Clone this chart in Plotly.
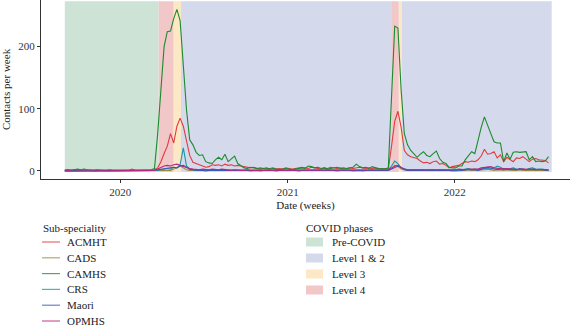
import pandas as pd
import plotly.graph_objects as go

# ---------------- data ----------------
start_week = "2019-09-02"
n_weeks = 152

series_names = ["ACMHT", "CADS", "CAMHS", "CRS", "Maori", "OPMHS"]
series_colors = ["#E23B3B", "#A08A3A", "#1E8A2E", "#1896A6", "#3558C0", "#B8287E"]

acmht = [2,2,1,1,2,1,1,1,1,2,1,1,1,1,1,1,2,1,1,1,1,3,1,1,1,1,1,2,
         2,5,15,28,40,60,45,72,85,72,50,25,14,12,10,8,6,7,10,9,10,8,11,9,10,8,9,8,
         7,6,5,6,4,5,4,3,4,5,3,4,3,5,4,3,4,5,6,5,4,6,5,4,3,5,4,6,5,4,5,3,4,5,4,5,6,5,4,5,4,5,4,3,4,
         3,40,80,96,70,33,26,23,22,20,16,13,14,12,15,16,11,12,9,5,7,8,9,12,15,14,16,15,
         18,24,35,27,28,31,21,26,15,22,18,15,21,20,23,19,15,19,20,18,18,17,13]
cads = [0,0,0,1,0,0,0,0,0,0,1,0,0,0,0,0,0,0,0,1,0,0,0,0,0,0,0,0,
        0,0,0,0,1,1,3,6,8,5,2,1,1,1,0,1,1,0,1,1,0,1,1,0,1,0,1,1,
        0,1,0,0,1,0,0,1,0,0,0,1,0,0,1,0,0,0,1,0,0,1,0,0,0,1,0,0,1,0,0,0,1,0,0,1,0,0,0,1,0,0,1,0,0,
        1,4,9,7,3,2,1,1,1,2,1,1,1,1,2,1,1,1,1,1,1,0,1,1,1,2,1,1,2,1,2,3,2,1,2,1,1,2,1,1,1,2,1,1,1,2,1,1,1,1,1]
camhs = [1,2,1,2,3,2,3,2,1,1,2,1,1,1,2,1,1,2,1,1,1,2,1,1,2,1,1,2,
         4,60,130,200,224,225,245,260,242,165,98,50,42,30,25,26,15,13,12,18,22,18,27,15,20,24,12,8,
         5,4,6,5,4,3,4,5,3,4,3,2,3,4,3,2,3,4,5,4,8,7,5,6,4,5,3,4,5,6,4,5,4,5,6,11,7,5,6,4,7,5,3,4,3,
         5,120,233,230,130,60,42,33,28,22,27,31,25,23,28,32,20,14,12,6,5,5,8,8,18,25,31,28,
         50,70,87,75,60,47,45,45,15,29,19,30,31,30,31,31,18,23,15,16,15,16,23]
crs = [0,0,1,0,0,1,2,1,0,0,0,1,0,0,0,0,1,0,0,0,1,0,0,0,0,1,0,0,
       0,1,2,3,4,3,6,5,10,37,8,3,2,1,1,2,1,1,2,1,1,1,2,1,1,1,2,1,
       1,1,0,1,1,0,1,1,2,1,0,1,1,0,1,2,1,0,1,1,1,0,1,1,0,1,2,1,1,0,1,1,2,1,0,1,1,0,1,1,2,1,1,0,1,
       2,8,16,12,5,3,2,2,1,1,2,1,1,2,1,1,2,1,1,1,0,1,1,2,3,4,2,3,2,3,5,4,3,5,8,6,3,2,4,5,3,2,3,2,4,5,3,2,3,2,1]
maori = [0,0,0,1,0,0,0,0,0,1,0,0,0,0,0,0,0,1,0,0,0,0,0,0,0,0,1,0,
         1,2,3,4,4,5,6,5,8,9,6,3,2,1,1,1,0,1,1,0,1,1,0,1,1,0,1,1,
         0,1,0,1,1,0,0,1,0,1,0,1,0,0,1,0,1,0,0,1,0,1,1,0,0,1,0,1,0,0,1,0,1,1,0,0,1,0,1,0,1,1,0,1,1,
         1,3,6,8,5,2,1,1,1,1,0,1,1,1,0,1,1,1,0,1,1,2,1,1,2,2,3,2,1,2,4,6,5,3,2,3,4,3,2,3,2,4,3,2,3,2,2,3,2,2,1]
opmhs = [0,1,0,0,1,0,0,0,1,0,0,0,1,0,0,0,0,0,1,0,0,0,1,0,0,0,0,1,
         1,3,6,8,9,8,10,11,9,7,5,4,3,2,2,3,2,2,3,2,2,3,2,2,1,2,1,1,
         1,2,1,1,2,1,1,2,1,1,1,2,1,1,2,1,1,1,2,1,1,2,1,1,1,2,1,1,2,1,1,1,2,1,1,2,1,1,1,2,1,1,2,1,1,
         2,5,8,9,6,3,2,2,2,1,2,2,1,2,2,1,2,2,1,2,2,2,3,2,2,3,3,4,3,5,6,7,7,5,4,3,3,4,3,3,2,3,3,2,3,3,2,2,3,2,2]
series_values = [acmht, cads, camhs, crs, maori, opmhs]

phase_names = ["Pre-COVID", "Level 1 & 2", "Level 3", "Level 4"]
phase_colors = ["#CDE3D5", "#D4D9EB", "#FCE8C5", "#F2C7C8"]
phase_periods = [  # (phase, start, end)
    ("Pre-COVID", "2019-09-02", "2020-03-25"),
    ("Level 4", "2020-03-25", "2020-04-27"),
    ("Level 3", "2020-04-27", "2020-05-13"),
    ("Level 1 & 2", "2020-05-13", "2021-08-17"),
    ("Level 4", "2021-08-17", "2021-09-01"),
    ("Level 3", "2021-09-01", "2021-09-07"),
    ("Level 1 & 2", "2021-09-07", "2022-08-01"),
]

year_ticks = ["2020-01-01", "2021-01-01", "2022-01-01"]
year_labels = ["2020", "2021", "2022"]
y_ticks = [0, 100, 200]

# ---------------- figure ----------------
W, H = 570, 326
L, R, T, B = 41, 0, 0, 147
pw, ph = W - L - R, H - T - B

def px(x):
    return (x - L) / pw

def py(y):
    return (H - B - y) / ph

FONT = "Liberation Serif"
dates = pd.date_range(start_week, periods=n_weeks, freq="7D")

fig = go.Figure()
for name, col, vals in zip(series_names, series_colors, series_values):
    fig.add_trace(go.Scatter(x=dates, y=vals, mode="lines", name=name,
                             line=dict(color=col, width=1.1), showlegend=False))

pcol = dict(zip(phase_names, phase_colors))
for ph_name, s, e in phase_periods:
    fig.add_shape(type="rect", xref="x", yref="y", x0=s, x1=e, y0=-1.5, y1=273,
                  fillcolor=pcol[ph_name], line=dict(width=0), layer="below")

annots = []
shapes_extra = []
ROW = 15.8
# Sub-speciality legend
annots.append(dict(text="Sub-speciality", x=px(41), y=py(228), xref="paper", yref="paper",
                   xanchor="left", yanchor="middle", showarrow=False,
                   font=dict(family=FONT, size=11, color="#222")))
for k, (name, col) in enumerate(zip(series_names, series_colors)):
    yy = 242 + ROW * k
    shapes_extra.append(dict(type="line", xref="paper", yref="paper", x0=px(42), x1=px(60),
                             y0=py(yy), y1=py(yy), line=dict(color=col, width=1.2), opacity=0.75))
    annots.append(dict(text=name, x=px(65), y=py(yy), xref="paper", yref="paper",
                       xanchor="left", yanchor="middle", showarrow=False,
                       font=dict(family=FONT, size=11, color="#222")))
# COVID phases legend
annots.append(dict(text="COVID phases", x=px(304), y=py(228), xref="paper", yref="paper",
                   xanchor="left", yanchor="middle", showarrow=False,
                   font=dict(family=FONT, size=11, color="#222")))
for k, (name, col) in enumerate(zip(phase_names, phase_colors)):
    yy = 242 + 16 * k
    shapes_extra.append(dict(type="rect", xref="paper", yref="paper", x0=px(306), x1=px(323),
                             y0=py(yy - 4.5), y1=py(yy + 4.5), fillcolor=col, line=dict(width=0)))
    annots.append(dict(text=name, x=px(330), y=py(yy), xref="paper", yref="paper",
                       xanchor="left", yanchor="middle", showarrow=False,
                       font=dict(family=FONT, size=11, color="#222")))

for sh in shapes_extra:
    fig.add_shape(**sh)

fig.update_layout(
    width=W, height=H, margin=dict(l=L, r=R, t=T, b=B, autoexpand=False),
    plot_bgcolor="white", paper_bgcolor="white",
    font=dict(family=FONT, size=11, color="#222"),
    annotations=annots,
    xaxis=dict(type="date", range=["2019-07-12", "2022-09-10"],
               tickvals=year_ticks, ticktext=year_labels, automargin=False,
               showline=True, linecolor="#333", linewidth=1,
               ticks="outside", ticklen=3, tickcolor="#333",
               showgrid=False, zeroline=False,
               tickfont=dict(family=FONT, size=11, color="#333"),
               title=dict(text="Date (weeks)", standoff=4,
                          font=dict(family=FONT, size=11, color="#222"))),
    yaxis=dict(range=[-12.9, 275], tickvals=y_ticks, automargin=False,
               showline=True, linecolor="#333", linewidth=1,
               ticks="outside", ticklen=3, tickcolor="#333",
               showgrid=False, zeroline=False,
               tickfont=dict(family=FONT, size=11, color="#333"),
               title=dict(text="Contacts per week", standoff=6,
                          font=dict(family=FONT, size=11, color="#222"))),
)

fig.write_html("out.html", config={"displayModeBar": False},
               post_script="document.body.style.margin='0';document.body.style.overflow='hidden';")
